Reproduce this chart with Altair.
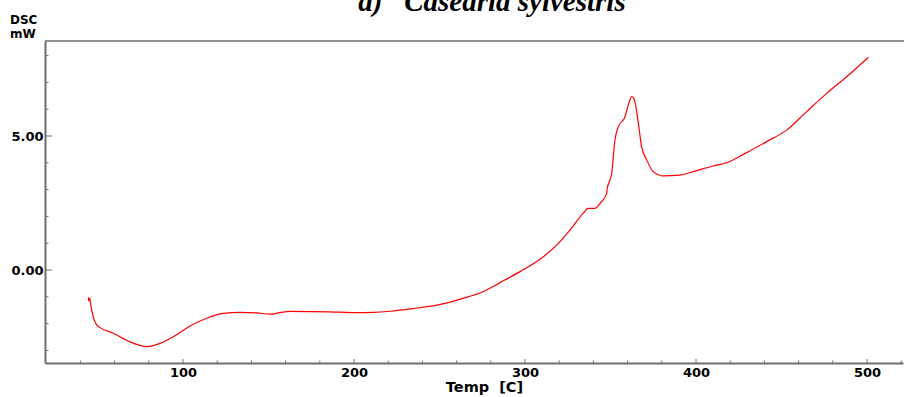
import altair as alt
import pandas as pd

# ---- data ----
temp = [44.6, 44.9, 45.3, 45.6, 46.2, 47.5, 49.5, 51.5, 59.2, 69.0, 78.8, 86.5, 94.3,
        104.1, 113.9, 123.6, 133.3, 143.1, 150.9, 156.7, 162.6, 186.0, 200.6, 211.1,
        221.1, 234.5, 248.4, 263.7, 275.4, 285.4, 297.1, 308.8, 318.5, 326.3, 334.1,
        337.0, 340.9, 343.9, 347.8, 348.1, 349.7, 350.7, 352.6, 354.6, 358.5, 360.4,
        362.4, 363.9, 366.3, 368.2, 371.2, 375.0, 380.9, 390.6, 400.4, 410.1, 417.9,
        429.6, 441.3, 453.0, 464.7, 476.4, 488.1, 500.8]
dsc = [-1.02, -1.15, -1.05, -1.10, -1.35, -1.74, -2.05, -2.15, -2.36, -2.68, -2.86,
       -2.74, -2.49, -2.09, -1.80, -1.62, -1.58, -1.60, -1.65, -1.59, -1.54, -1.56,
       -1.59, -1.58, -1.54, -1.44, -1.31, -1.06, -0.81, -0.47, -0.06, 0.40, 0.93,
       1.49, 2.12, 2.30, 2.30, 2.49, 2.86, 3.05, 3.36, 3.61, 4.85, 5.35, 5.72, 6.16,
       6.47, 6.37, 5.47, 4.60, 4.10, 3.67, 3.51, 3.54, 3.71, 3.88, 4.00, 4.38, 4.79,
       5.22, 5.91, 6.59, 7.21, 7.94]

x_labels = [100, 200, 300, 400, 500]
x_minor = [40, 60, 80, 120, 140, 160, 180, 220, 240, 260, 280, 320, 340, 360, 380,
           420, 440, 460, 480, 520]
y_labels = [0, 5]
y_minor = [-3, -2, -1, 1, 2, 3, 4, 6, 7, 8]

title_text = "a)\u00a0\u00a0\u00a0Casearia sylvestris"
y_title_1 = "DSC"
y_title_2 = "mW"
x_title = "Temp\u00a0\u00a0[C]"

W, H = 858, 322
XDOM = [19.3, 521.05]
YDOM = [-3.47, 8.545]
GRAY = "#6e6e6e"
FONT = "DejaVu Sans"

df = pd.DataFrame({"temp": temp, "dsc": dsc})
xs = alt.Scale(domain=XDOM, nice=False, zero=False)
ys = alt.Scale(domain=YDOM, nice=False, zero=False)

x_axis = alt.Axis(values=x_labels, format="d", ticks=False, grid=False,
                  domainColor=GRAY, domainWidth=2, labelFont=FONT,
                  labelFontWeight="bold", labelFontSize=13, labelColor="black",
                  labelPadding=3, title=x_title, titleFont=FONT,
                  titleFontWeight="bold", titleFontSize=14.5, titleColor="black",
                  titlePadding=1, titleX=W / 2 + 10)
y_axis = alt.Axis(values=y_labels, format=".2f", ticks=False, grid=False,
                  domainColor=GRAY, domainWidth=2, labelFont=FONT,
                  labelFontWeight="bold", labelFontSize=13, labelColor="black",
                  labelPadding=2, title="")

line = alt.Chart(df).mark_line(color="#ff0000", strokeWidth=1.2,
                               interpolate="monotone").encode(
    x=alt.X("temp:Q", scale=xs, axis=x_axis),
    y=alt.Y("dsc:Q", scale=ys, axis=y_axis),
    order=alt.Order("temp:Q"),
)

xmaj = alt.Chart(pd.DataFrame({"temp": x_labels})).mark_rule(color=GRAY, strokeWidth=1).encode(
    x=alt.X("temp:Q", scale=xs, axis=x_axis), y=alt.value(H), y2=alt.value(H - 4))
xmin = alt.Chart(pd.DataFrame({"temp": x_minor})).mark_rule(color=GRAY, strokeWidth=1).encode(
    x=alt.X("temp:Q", scale=xs, axis=x_axis), y=alt.value(H), y2=alt.value(H - 2.5))
ymaj = alt.Chart(pd.DataFrame({"dsc": y_labels})).mark_rule(color=GRAY, strokeWidth=1).encode(
    y=alt.Y("dsc:Q", scale=ys, axis=y_axis), x=alt.value(0), x2=alt.value(7))
ymin = alt.Chart(pd.DataFrame({"dsc": y_minor})).mark_rule(color=GRAY, strokeWidth=1).encode(
    y=alt.Y("dsc:Q", scale=ys, axis=y_axis), x=alt.value(0), x2=alt.value(3.5))

top = alt.Chart(pd.DataFrame({"v": [0]})).mark_rule(color=GRAY, strokeWidth=1.5).encode(
    y=alt.value(0), x=alt.value(0), x2=alt.value(W + 1))

title = alt.Chart(pd.DataFrame({"t": [title_text]})).mark_text(
    font="Liberation Serif", fontSize=29, fontStyle="italic", fontWeight="bold",
    align="center", baseline="alphabetic", color="black").encode(
    text="t:N", x=alt.value(447), y=alt.value(-30))

dsc_lbl = alt.Chart(pd.DataFrame({"t": [y_title_1]})).mark_text(
    font=FONT, fontSize=12, fontWeight="bold", align="left", baseline="alphabetic",
    color="black").encode(text="t:N", x=alt.value(-35), y=alt.value(-17))
mw_lbl = alt.Chart(pd.DataFrame({"t": [y_title_2]})).mark_text(
    font=FONT, fontSize=12, fontWeight="bold", align="left", baseline="alphabetic",
    color="black").encode(text="t:N", x=alt.value(-35), y=alt.value(-3))

chart = alt.layer(line, top, xmin, xmaj, ymin, ymaj, title, dsc_lbl, mw_lbl).properties(
    width=W, height=H,
    padding={"left": 45, "top": 41, "right": 1, "bottom": 34},
    autosize=alt.AutoSizeParams(type="none"),
    background="white",
).configure_view(strokeWidth=0)

chart.save("out.html", embed_options={"renderer": "svg", "actions": False})
